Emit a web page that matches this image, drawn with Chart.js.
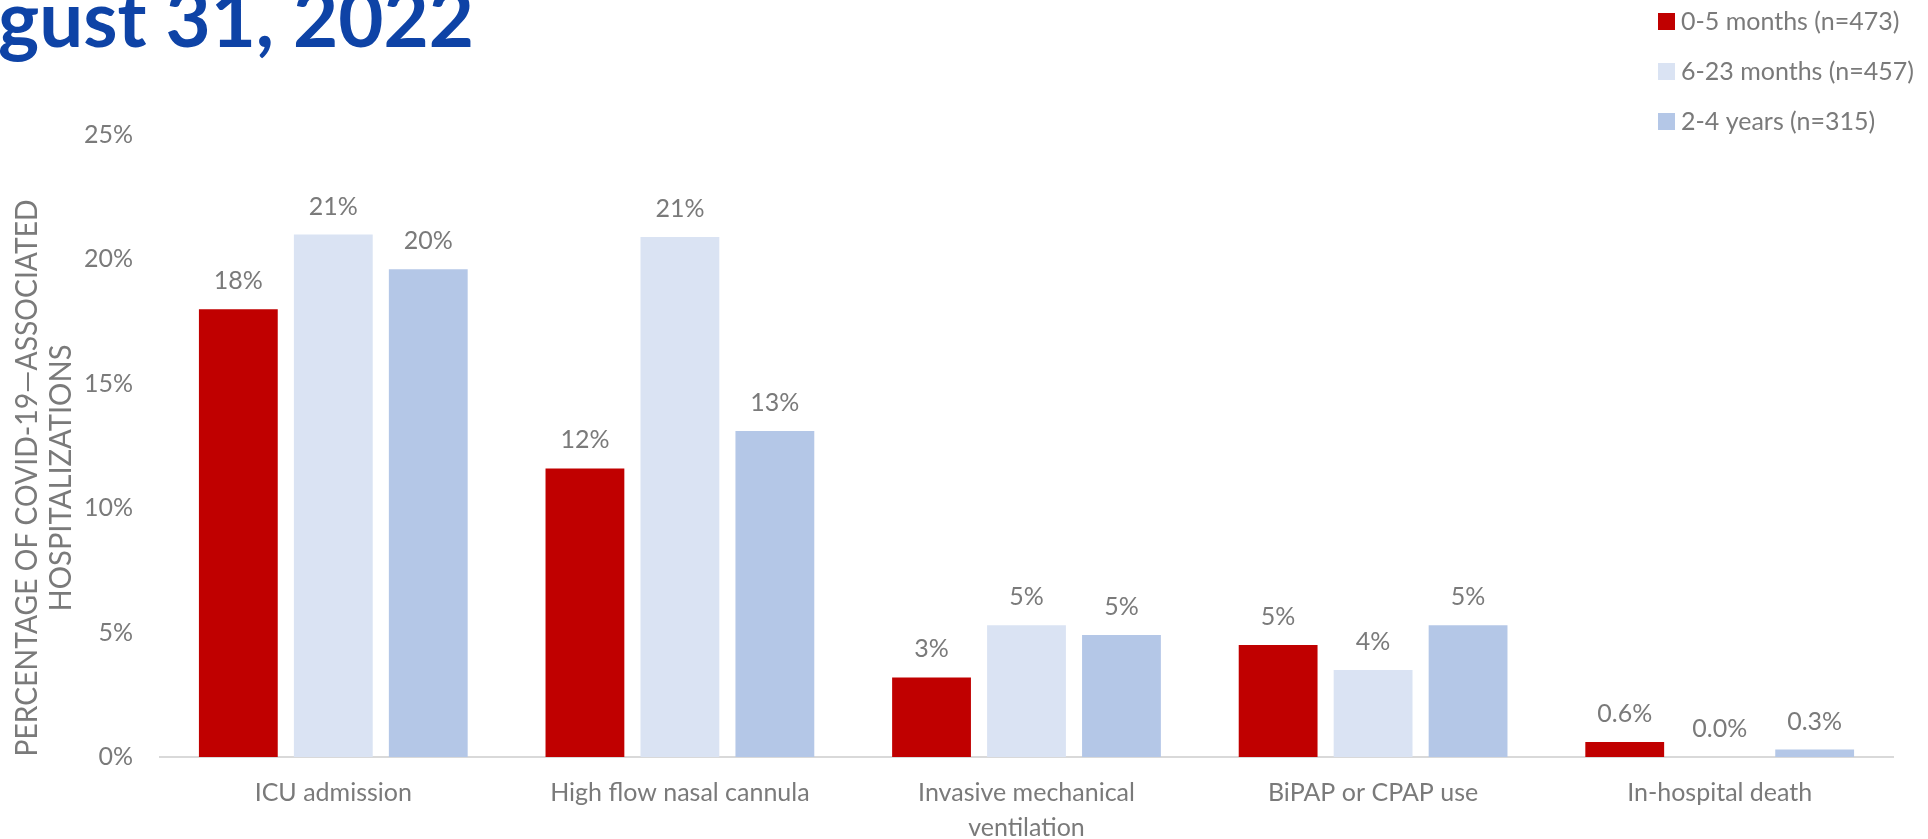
<!DOCTYPE html>
<html>
<head>
<meta charset="utf-8">
<script src="https://cdn.jsdelivr.net/npm/chart.js@4"></script>
<style>
  html, body { margin: 0; padding: 0; background: #fff; }
  #wrap { position: relative; width: 1928px; height: 839px; }
</style>
</head>
<body>
<div id="wrap"><canvas id="chartCanvas"></canvas></div>
<script>
// Data
const categories = ['ICU admission', 'High flow nasal cannula', ['Invasive mechanical', 'ventilation'], 'BiPAP or CPAP use', 'In-hospital death'];
const seriesNames = ['0-5 months (n=473)', '6-23 months (n=457)', '2-4 years (n=315)'];
const infants = [18.0, 11.6, 3.2, 4.5, 0.6];
const toddlers = [21.0, 20.9, 5.3, 3.5, 0.0];
const preschool = [19.6, 13.1, 4.9, 5.3, 0.3];
const labelDecimals = [0, 0, 0, 0, 1];   // last group is shown with one decimal
const yTicks = [0, 5, 10, 15, 20, 25];
const axisTitleLines = ['PERCENTAGE OF COVID-19\u2014ASSOCIATED', 'HOSPITALIZATIONS'];
const titleText = 'August 31, 2022';

const colors = ['#C00000', '#DAE3F3', '#B4C7E7'];
const grey = '#7a7a7a';
const font = 'Lato, "Open Sans", sans-serif';

// Page title, cut off on the left edge like the slide
const titlePlugin = {
    id: 'slideTitle',
    afterDraw(chart) {
        const ctx = chart.ctx;
        ctx.save();
        ctx.font = 'bold 78px ' + font;
        ctx.fillStyle = '#0E43A6';
        ctx.textBaseline = 'alphabetic';
        const cut = ctx.measureText('Au').width;
        const rest = ctx.measureText(titleText).width - cut;
        const sx = 476 / rest;
        ctx.scale(sx, 1);
        ctx.fillText(titleText, -cut - 2, 47);
        ctx.restore();
    }
};

// Rotated two-line y axis title (narrow, like the slide font)
const axisTitlePlugin = {
    id: 'axisTitle',
    afterDraw(chart) {
        const ctx = chart.ctx;
        ctx.save();
        ctx.font = '30px ' + font;
        ctx.fillStyle = grey;
        ctx.textAlign = 'center';
        ctx.textBaseline = 'middle';
        ctx.translate(27, 478);
        ctx.rotate(-Math.PI / 2);
        ctx.fillText(axisTitleLines[0], 0, 0, 557);
        ctx.fillText(axisTitleLines[1], 0, 34, 267);
        ctx.restore();
    }
};

// Legend in the top right corner
const legendPlugin = {
    id: 'cornerLegend',
    afterDraw(chart) {
        const ctx = chart.ctx;
        ctx.save();
        ctx.font = '25px ' + font;
        ctx.textBaseline = 'middle';
        ctx.textAlign = 'left';
        chart.data.datasets.forEach((ds, i) => {
            const y = 21 + i * 50;
            ctx.fillStyle = ds.backgroundColor;
            ctx.fillRect(1658, y - 8, 17, 17);
            ctx.fillStyle = grey;
            ctx.fillText(ds.label, 1681, y + 1);
        });
        ctx.restore();
    }
};

// Value labels above the bars
const valueLabelPlugin = {
    id: 'valueLabels',
    afterDatasetsDraw(chart) {
        const ctx = chart.ctx;
        ctx.save();
        ctx.font = '25px ' + font;
        ctx.fillStyle = grey;
        ctx.textAlign = 'center';
        ctx.textBaseline = 'middle';
        chart.data.datasets.forEach((ds, i) => {
            const meta = chart.getDatasetMeta(i);
            meta.data.forEach((bar, j) => {
                const v = ds.data[j];
                const txt = labelDecimals[j] ? v.toFixed(labelDecimals[j]) + '%' : Math.round(v) + '%';
                ctx.fillText(txt, bar.x, bar.y - 28);
            });
        });
        ctx.restore();
    }
};

const ctx = document.getElementById('chartCanvas').getContext('2d');
const chart = new Chart(ctx, {
    type: 'bar',
    data: {
        labels: categories,
        datasets: [
            { label: seriesNames[0], data: infants, backgroundColor: colors[0] },
            { label: seriesNames[1], data: toddlers, backgroundColor: colors[1] },
            { label: seriesNames[2], data: preschool, backgroundColor: colors[2] }
        ]
    },
    options: {
        responsive: true,
        maintainAspectRatio: false,
        animation: false,
        layout: { padding: { top: 135, right: 35, left: 0, bottom: 0 } },
        datasets: {
            bar: { categoryPercentage: 0.822, barPercentage: 0.83 }
        },
        plugins: {
            legend: { display: false },
            tooltip: { enabled: false }
        },
        scales: {
            x: {
                grid: { display: false, drawTicks: false },
                border: { display: true, color: '#D9D9D9', width: 2 },
                ticks: {
                    color: grey,
                    font: { family: font, size: 25, lineHeight: 1.4 },
                    padding: 18,
                    maxRotation: 0,
                    autoSkip: false
                },
                afterFit(scale) { scale.height = 82; }
            },
            y: {
                min: 0,
                max: 25,
                afterBuildTicks(scale) { scale.ticks = yTicks.map(v => ({ value: v })); },
                grid: { display: false, drawTicks: false },
                border: { display: false },
                ticks: {
                    color: grey,
                    font: { family: font, size: 25 },
                    padding: 27,
                    callback: v => v + '%'
                },
                afterFit(scale) { scale.width = 160; }
            }
        }
    },
    plugins: [titlePlugin, axisTitlePlugin, legendPlugin, valueLabelPlugin]
});
</script>
</body>
</html>
